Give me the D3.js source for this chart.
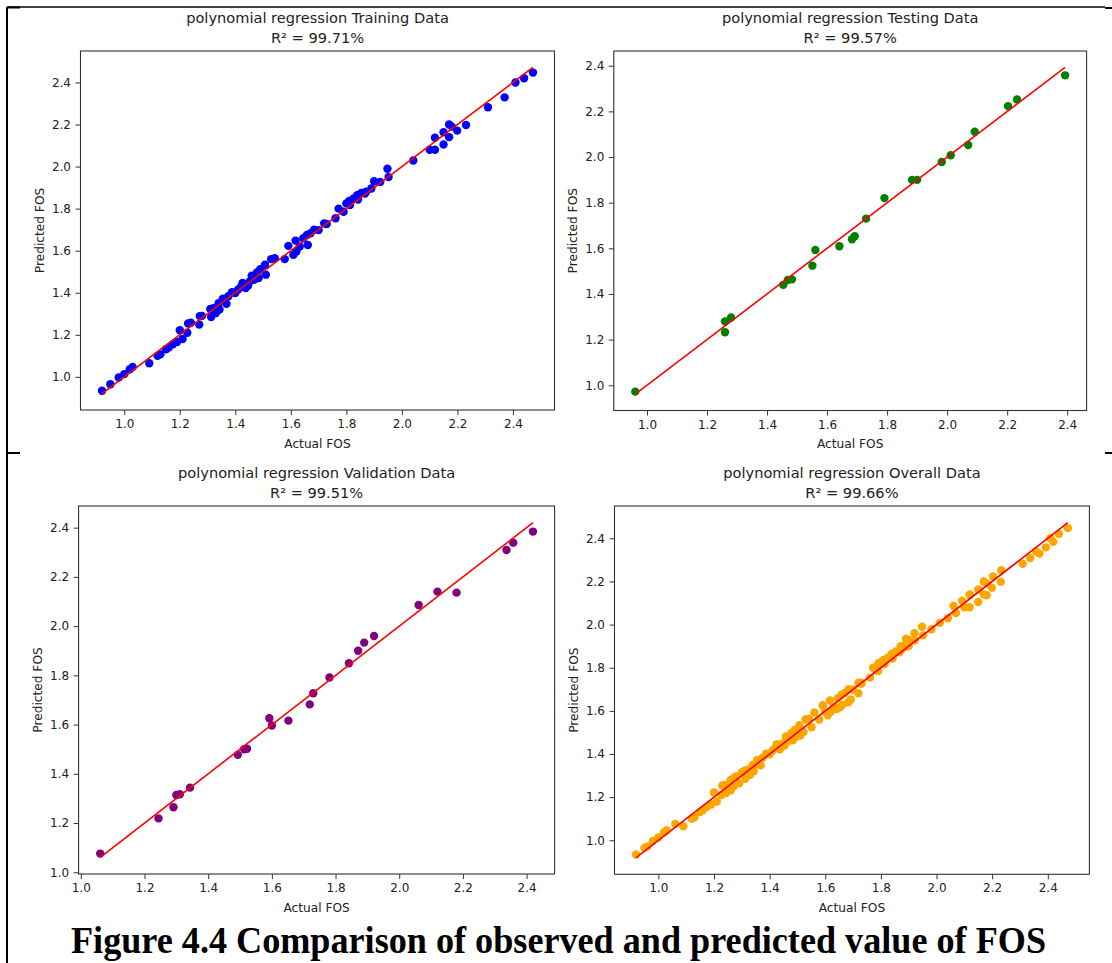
<!DOCTYPE html>
<html>
<head>
<meta charset="utf-8">
<script src="https://cdn.jsdelivr.net/npm/d3@7"></script>
<style>
  body { margin: 0; background: #fff; }
  svg text { font-family: "DejaVu Sans", sans-serif; fill: #222; }
</style>
</head>
<body>
<div id="chart"></div>
<script>
// Values (actual FOS vs predicted FOS)
var trainActual = [0.92,0.95,0.98,1.00,1.02,1.03,1.09,1.12,1.13,1.15,
    1.16,1.175,1.19,1.20,1.21,1.227,1.23,1.24,1.27,1.272,
    1.28,1.31,1.313,1.323,1.33,1.34,1.343,1.355,1.368,1.375,
    1.388,1.40,1.41,1.42,1.426,1.437,1.446,1.452,1.459,1.468,
    1.478,1.484,1.49,1.507,1.51,1.529,1.542,1.578,1.591,1.609,
    1.617,1.62,1.632,1.645,1.658,1.661,1.671,1.684,1.70,1.72,
    1.729,1.761,1.772,1.79,1.80,1.81,1.813,1.826,1.839,1.842,
    1.854,1.871,1.867,1.89,1.90,1.922,1.948,1.952,2.041,2.10,
    2.119,2.119,2.15,2.15,2.17,2.17,2.18,2.199,2.231,2.31,
    2.37,2.409,2.44,2.472];
var trainPredicted = [0.934,0.965,0.997,1.013,1.036,1.047,1.065,1.10,1.107,1.131,
    1.139,1.155,1.166,1.222,1.18,1.21,1.254,1.257,1.249,1.289,
    1.29,1.323,1.285,1.328,1.304,1.35,1.32,1.372,1.348,1.383,
    1.402,1.399,1.415,1.427,1.446,1.422,1.434,1.454,1.481,1.462,
    1.497,1.47,1.512,1.533,1.486,1.56,1.564,1.56,1.623,1.58,
    1.648,1.596,1.62,1.659,1.675,1.627,1.683,1.70,1.698,1.73,
    1.727,1.754,1.80,1.785,1.825,1.836,1.817,1.848,1.864,1.843,
    1.875,1.88,1.872,1.896,1.93,1.927,1.99,1.95,2.029,2.08,
    2.08,2.137,2.105,2.163,2.20,2.14,2.19,2.171,2.198,2.282,
    2.329,2.40,2.42,2.447];

var testActual = [0.961,1.26,1.26,1.28,1.454,1.469,1.483,1.551,1.561,1.641,1.683,1.692,
    1.73,1.791,1.883,1.90,1.982,2.012,2.07,2.092,2.203,2.233,2.393];
var testPredicted = [0.972,1.28,1.232,1.297,1.44,1.461,1.464,1.524,1.593,1.609,1.64,1.653,
    1.73,1.82,1.90,1.90,1.978,2.008,2.053,2.111,2.223,2.252,2.358];

var valActual = [1.061,1.244,1.291,1.30,1.311,1.343,1.493,1.513,1.522,1.592,1.60,1.652,
    1.719,1.73,1.781,1.842,1.871,1.89,1.921,2.061,2.12,2.18,2.337,2.358,2.42];
var valPredicted = [1.076,1.219,1.264,1.314,1.317,1.344,1.477,1.50,1.502,1.626,1.596,1.616,
    1.682,1.727,1.791,1.849,1.90,1.933,1.96,2.086,2.14,2.136,2.309,2.339,2.384];

// overall = all three sets together
var allActual = trainActual.concat(testActual, valActual);
var allPredicted = trainPredicted.concat(testPredicted, valPredicted);

var tickValues = [1.0, 1.2, 1.4, 1.6, 1.8, 2.0, 2.2, 2.4];
var panelTitles = ["polynomial regression Training Data", "polynomial regression Testing Data",
    "polynomial regression Validation Data", "polynomial regression Overall Data"];
var r2Labels = ["R\u00b2 = 99.71%", "R\u00b2 = 99.57%", "R\u00b2 = 99.51%", "R\u00b2 = 99.66%"];
var pointColors = ["blue", "green", "purple", "orange"];
var caption = "Figure 4.4 Comparison of observed and predicted value of FOS";

var W = 1112, H = 963;

var svg = d3.select("#chart").append("svg")
    .attr("width", W)
    .attr("height", H);

// page frame pieces
var frame = svg.append("g").attr("stroke", "#000").attr("fill", "none");
frame.append("line").attr("x1", 7).attr("x2", 1105).attr("y1", 7).attr("y2", 7).attr("stroke-width", 1.3);
frame.append("line").attr("x1", 7).attr("x2", 20).attr("y1", 7.5).attr("y2", 7.5).attr("stroke-width", 2);
frame.append("line").attr("x1", 7).attr("x2", 7).attr("y1", 7).attr("y2", H).attr("stroke-width", 2);
frame.append("line").attr("x1", 7).attr("x2", 20).attr("y1", 453).attr("y2", 453).attr("stroke-width", 2);
frame.append("line").attr("x1", 1105).attr("x2", 1112).attr("y1", 8).attr("y2", 8).attr("stroke-width", 2);
frame.append("line").attr("x1", 1105).attr("x2", 1112).attr("y1", 453).attr("y2", 453).attr("stroke-width", 2);

// axes boxes [left, right, top, bottom]
var panels = [
    {actual: trainActual, pred: trainPredicted, box: [80.5, 554.5, 51, 410]},
    {actual: testActual, pred: testPredicted, box: [613.8, 1086.6, 51, 410.5]},
    {actual: valActual, pred: valPredicted, box: [78.6, 554.6, 506, 874]},
    {actual: allActual, pred: allPredicted, box: [614.5, 1089.4, 506, 874.3]}
];

function padded(ext) {
    var m = (ext[1] - ext[0]) * 0.05;
    return [ext[0] - m, ext[1] + m];
}

panels.forEach(function(p, i) {
    var b = p.box;
    var g = svg.append("g");

    var xExt = d3.extent(p.actual);
    var yExt = d3.extent(p.actual.concat(p.pred));

    var x = d3.scaleLinear().domain(padded(xExt)).range([b[0], b[1]]);
    var y = d3.scaleLinear().domain(padded(yExt)).range([b[3], b[2]]);

    // scatter
    g.append("g").selectAll("circle")
        .data(p.actual)
        .enter().append("circle")
        .attr("cx", function(d) { return x(d); })
        .attr("cy", function(d, j) { return y(p.pred[j]); })
        .attr("r", 4.2)
        .attr("fill", pointColors[i]);

    // perfect-fit line from min to max actual
    var line = d3.line()
        .x(function(d) { return x(d); })
        .y(function(d) { return y(d); });
    g.append("path")
        .datum(xExt)
        .attr("d", line)
        .attr("stroke", "red")
        .attr("stroke-width", 1.6)
        .attr("fill", "none");

    // axes
    var fmt = d3.format(".1f");
    var xAxis = g.append("g")
        .attr("transform", "translate(0," + b[3] + ")")
        .call(d3.axisBottom(x).tickValues(tickValues).tickFormat(fmt).tickSize(5).tickPadding(4.5));
    var yAxis = g.append("g")
        .attr("transform", "translate(" + b[0] + ",0)")
        .call(d3.axisLeft(y).tickValues(tickValues).tickFormat(fmt).tickSize(5).tickPadding(4.5));
    [xAxis, yAxis].forEach(function(a) {
        a.select(".domain").remove();
        a.selectAll(".tick line").attr("stroke", "#333");
        a.selectAll(".tick text")
            .attr("font-family", "DejaVu Sans")
            .attr("font-size", 12)
            .attr("fill", "#222");
    });

    // frame of the axes
    g.append("rect")
        .attr("x", b[0]).attr("y", b[2])
        .attr("width", b[1] - b[0]).attr("height", b[3] - b[2])
        .attr("fill", "none")
        .attr("stroke", "#333")
        .attr("stroke-width", 1.1);

    var cx = (b[0] + b[1]) / 2;
    var cy = (b[2] + b[3]) / 2;

    g.append("text")
        .attr("x", cx).attr("y", b[3] + 37.5)
        .attr("text-anchor", "middle")
        .attr("font-size", 12.2)
        .text("Actual FOS");

    g.append("text")
        .attr("transform", "translate(" + (b[0] - 37) + "," + cy + ") rotate(-90)")
        .attr("text-anchor", "middle")
        .attr("font-size", 12.2)
        .text("Predicted FOS");

    g.append("text")
        .attr("x", cx).attr("y", b[2] - 28)
        .attr("text-anchor", "middle")
        .attr("font-size", 14.6)
        .text(panelTitles[i]);
    g.append("text")
        .attr("x", cx).attr("y", b[2] - 8.5)
        .attr("text-anchor", "middle")
        .attr("font-size", 14.6)
        .text(r2Labels[i]);
});

// figure caption
svg.append("text")
    .attr("x", 558.5)
    .attr("y", 953)
    .attr("text-anchor", "middle")
    .attr("textLength", 975)
    .attr("lengthAdjust", "spacingAndGlyphs")
    .style("font-family", "'Liberation Serif', 'Times New Roman', serif")
    .style("font-weight", "bold")
    .style("font-size", "37px")
    .style("fill", "#000")
    .text(caption);
</script>
</body>
</html>
